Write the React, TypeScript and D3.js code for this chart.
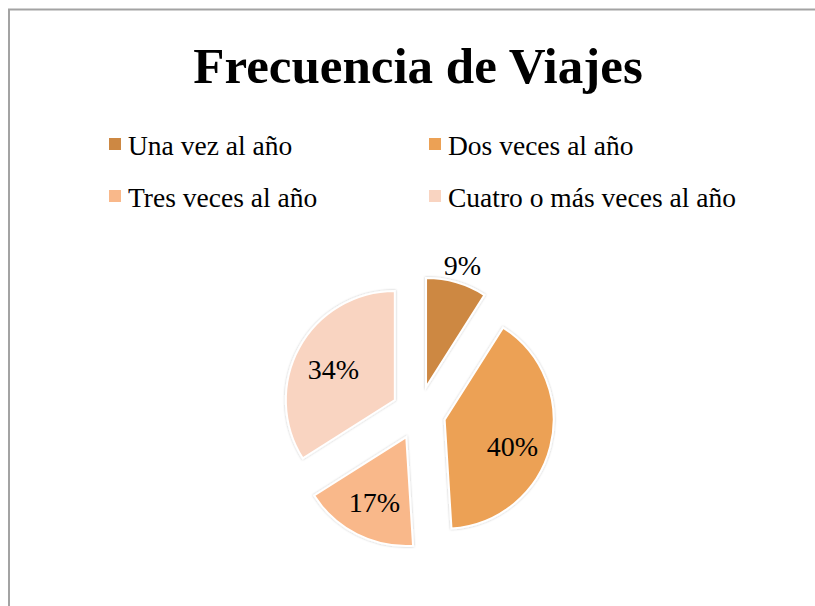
import React, { useEffect, useRef } from "react";
import * as d3 from "d3";

const categories = [
  "Una vez al año",
  "Dos veces al año",
  "Tres veces al año",
  "Cuatro o más veces al año",
];
const values = [9, 40, 17, 34];
const colors = ["#CD8843", "#ECA155", "#F9B88A", "#F9D4C1"];
const title = "Frecuencia de Viajes";

const WIDTH = 815;
const HEIGHT = 606;
const FONT = "'Liberation Serif', 'Times New Roman', serif";

const App = () => {
  const svgRef = useRef<SVGSVGElement>(null);

  useEffect(() => {
    const svg = d3.select(svgRef.current);
    svg.selectAll("*").remove();

    const defs = svg.append("defs");
    const filter = defs
      .append("filter")
      .attr("id", "sliceShadow")
      .attr("x", "-20%")
      .attr("y", "-20%")
      .attr("width", "140%")
      .attr("height", "140%");
    filter
      .append("feDropShadow")
      .attr("dx", 0)
      .attr("dy", 0)
      .attr("stdDeviation", 1.2)
      .attr("flood-color", "#000")
      .attr("flood-opacity", 0.25);

    // chart frame (cut at right and bottom)
    svg
      .append("rect")
      .attr("x", 9)
      .attr("y", 9.5)
      .attr("width", WIDTH + 20)
      .attr("height", HEIGHT + 20)
      .attr("fill", "#fff")
      .attr("stroke", "#a3a3a3")
      .attr("stroke-width", 2);

    svg
      .append("text")
      .attr("x", 418)
      .attr("y", 83)
      .attr("text-anchor", "middle")
      .attr("font-family", FONT)
      .attr("font-weight", "bold")
      .attr("font-size", 51)
      .attr("fill", "#000")
      .text(title);

    // legend, two columns
    const legendX = d3.scalePoint<number>().domain([0, 1]).range([109, 429]);
    const legendY = d3.scalePoint<number>().domain([0, 1]).range([138, 190]);
    const legend = svg
      .append("g")
      .selectAll("g")
      .data(categories)
      .join("g")
      .attr(
        "transform",
        (d, i) => `translate(${legendX(i % 2)},${legendY(Math.floor(i / 2))})`
      );
    legend
      .append("rect")
      .attr("width", 12)
      .attr("height", 12)
      .attr("fill", (d, i) => colors[i]);
    legend
      .append("text")
      .attr("x", 19)
      .attr("y", 17)
      .attr("font-family", FONT)
      .attr("font-size", 27.5)
      .attr("fill", "#000")
      .text((d) => d);

    // exploded pie
    const cx = 418.5;
    const cy = 413;
    const radius = 109;
    const explode = 27;
    const total = d3.sum(values);

    const pie = d3
      .pie<number>()
      .sort(null)
      .startAngle(0)
      .endAngle(2 * Math.PI)
      .value((d) => d);
    const arcs = pie(values);
    const arc = d3.arc<d3.PieArcDatum<number>>().innerRadius(0).outerRadius(radius);

    const offset = (a: d3.PieArcDatum<number>, dist: number) => {
      const mid = (a.startAngle + a.endAngle) / 2;
      return [Math.sin(mid) * dist, -Math.cos(mid) * dist];
    };

    const slices = svg
      .append("g")
      .attr("transform", `translate(${cx},${cy})`);

    slices
      .selectAll("path")
      .data(arcs)
      .join("path")
      .attr("d", arc)
      .attr("transform", (d) => {
        const [dx, dy] = offset(d, explode);
        return `translate(${dx},${dy})`;
      })
      .attr("fill", (d, i) => colors[i])
      .attr("stroke", "#fff")
      .attr("stroke-width", 2)
      .attr("filter", "url(#sliceShadow)");

    slices
      .selectAll("text")
      .data(arcs)
      .join("text")
      .attr("transform", (d) => {
        const share = d.value / total;
        const dist = share < 0.12 ? 157 : 97;
        const [dx, dy] = offset(d, dist);
        return `translate(${dx},${dy + (share > 0.35 ? 6 : 0)})`;
      })
      .attr("text-anchor", "middle")
      .attr("dy", "0.45em")
      .attr("font-family", FONT)
      .attr("font-size", 28)
      .attr("fill", "#000")
      .text((d) => `${Math.round((d.value / total) * 100)}%`);
  }, []);

  return (
    <svg
      ref={svgRef}
      width={WIDTH}
      height={HEIGHT}
      style={{ position: "absolute", left: 0, top: 0, background: "#fff" }}
    ></svg>
  );
};

export default App;
